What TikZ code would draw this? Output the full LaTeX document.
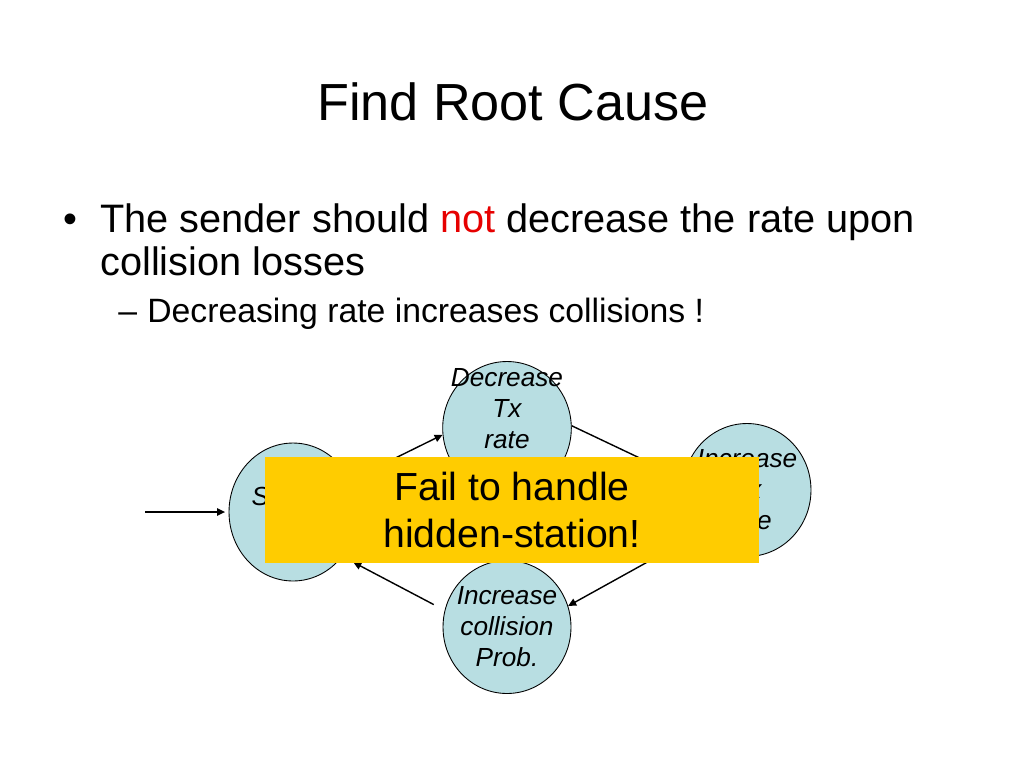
\documentclass[tikz,border=0pt]{standalone}
\usepackage{fontspec}
\setmainfont{Liberation Sans}
\usetikzlibrary{arrows.meta,shapes.geometric}
\definecolor{statefill}{RGB}{184,222,226}
\definecolor{bannergold}{RGB}{255,204,0}
\definecolor{notred}{RGB}{230,0,0}
\tikzset{
  state/.style={ellipse, draw=black, fill=statefill, line width=0.5pt, minimum width=2.56cm, minimum height=2.66cm, inner xsep=-6pt, inner ysep=-10pt, align=center, font=\fontsize{14.9}{17.6}\selectfont\itshape},
  banner/.style={rectangle, fill=bannergold, minimum width=9.88cm, minimum height=2.12cm, inner sep=0pt, align=center, font=\fontsize{22.3}{26.6}\selectfont},
  arr/.style={-{Triangle[length=1.6mm,width=1.5mm]}, line width=0.8pt},
  body/.style={anchor=base west, inner sep=0pt, font=\fontsize{22.6}{27}\selectfont},
  subitem/.style={anchor=base west, inner sep=0pt, font=\fontsize{19.2}{23}\selectfont},
}

\begin{document}
\begin{tikzpicture}[x=0.02cm,y=-0.02cm]
  \useasboundingbox (0,0) rectangle (1024,768);
  \node[anchor=base, inner sep=0pt, font=\fontsize{29.7}{35}\selectfont] (title) at (513,120) {Find Root Cause};
  \node[body] (dot) at (63,232) {•};
  \node[body] (line1) at (100,232) {The sender should \textcolor{notred}{not} decrease the rate upon};
  \node[body] (line2) at (100,275) {collision losses};
  \node[subitem] (dash) at (118,322) {–};
  \node[subitem] (line3) at (147,322) {Decreasing rate increases collisions !};
  % states
  \node[state, minimum height=2.76cm] (send) at (293,512) {Suffers\\loss};
  \node[state, text depth=22pt] (dec) at (507,428) {Decrease\\Tx\\rate};
  \node[state] (inc) at (747,490) {Increase\\Tx\\time};
  \node[state] (prob) at (507,627) {Increase\\collision\\Prob.};
  \coordinate (entry) at (145,512);
  \draw[arr, shorten >=2pt] (entry) -- (send.west);
  \draw[arr] (send.29) -- (dec.186);
  \draw[arr] (dec.2) -- (inc.170);
  \draw[arr] (inc.222) -- (prob.19);
  \draw[arr, shorten <=7pt, shorten >=7pt] (prob.165) -- (send.318);
  % banner on top
  \node[banner] (fail) at (512,510) {Fail to handle\\hidden-station!};
\end{tikzpicture}
\end{document}
